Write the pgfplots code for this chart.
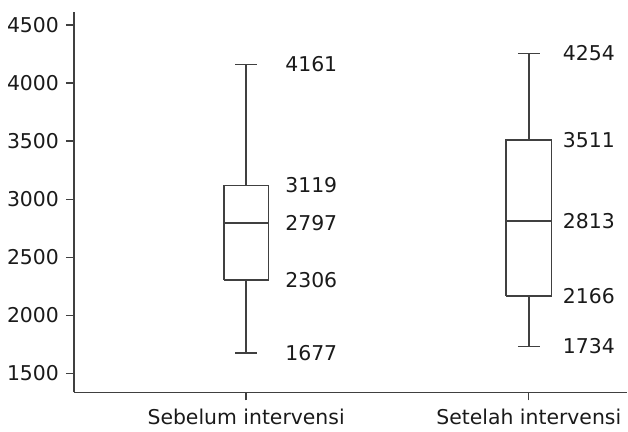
\documentclass[border=0pt]{standalone}
\usepackage{pgfplots}
\pgfplotsset{compat=1.18}
\usepackage{fontspec}
\setmainfont{DejaVu Sans}
\definecolor{ln}{HTML}{404040}
\definecolor{tx}{HTML}{1A1A1A}
\pgfplotsset{bx/.style={draw=ln, line width=1.5bp, solid, mark=none, fill=none}}
\begin{document}
\fontsize{20.5}{24}\selectfont
\begin{tikzpicture}
\begin{axis}[
  scale only axis,
  width=554bp, height=381.6bp,
  xmin=0.3904, xmax=2.346,
  ymin=1337, ymax=4614,
  axis x line*=bottom, axis y line*=left,
  axis line style={ln, line width=1.5bp, -},
  xtick={1,2}, xticklabels={Sebelum intervensi, Setelah intervensi},
  ytick={1500,2000,2500,3000,3500,4000,4500},
  tick style={ln, line width=1.3bp},
  tick align=outside, major tick length=8bp,
  ticklabel style={text=tx, font=\fontsize{20.5}{24}\selectfont},
  /pgf/number format/assume math mode=true,
  /pgf/number format/set thousands separator={},
  xticklabel style={yshift=-2bp},
  clip=false,
]
% box 1: whiskers 1677/4161, quartiles 2306/3119, median 2797
\addplot[bx] coordinates {(1,1677) (1,2306)};
\addplot[bx] coordinates {(1,3119) (1,4161)};
\addplot[bx] coordinates {(0.961,1677) (1.039,1677)};
\addplot[bx] coordinates {(0.961,4161) (1.039,4161)};
\addplot[bx] coordinates {(0.921,2306) (1.079,2306) (1.079,3119) (0.921,3119) (0.921,2306)};
\addplot[bx] coordinates {(0.921,2797) (1.079,2797)};
% box 2: whiskers 1734/4254, quartiles 2166/3511, median 2813
\addplot[bx] coordinates {(2,1734) (2,2166)};
\addplot[bx] coordinates {(2,3511) (2,4254)};
\addplot[bx] coordinates {(1.961,1734) (2.039,1734)};
\addplot[bx] coordinates {(1.961,4254) (2.039,4254)};
\addplot[bx] coordinates {(1.919,2166) (2.081,2166) (2.081,3511) (1.919,3511) (1.919,2166)};
\addplot[bx] coordinates {(1.919,2813) (2.081,2813)};
\addplot[only marks, mark=none, nodes near coords, point meta=explicit symbolic,
  nodes near coords style={anchor=west, inner sep=0pt, text=tx, font=\fontsize{20.5}{24}\selectfont}]
  coordinates {(1.138,4161)[4161] (1.138,3119)[3119] (1.138,2797)[2797]
               (1.138,2306)[2306] (1.138,1677)[1677]
               (2.12,4254)[4254] (2.12,3511)[3511] (2.12,2813)[2813]
               (2.12,2166)[2166] (2.12,1734)[1734]};
\end{axis}
\useasboundingbox ([xshift=-74bp,yshift=-31.7bp]current axis.south west) rectangle ([yshift=11.7bp]current axis.north east);
\end{tikzpicture}
\end{document}
